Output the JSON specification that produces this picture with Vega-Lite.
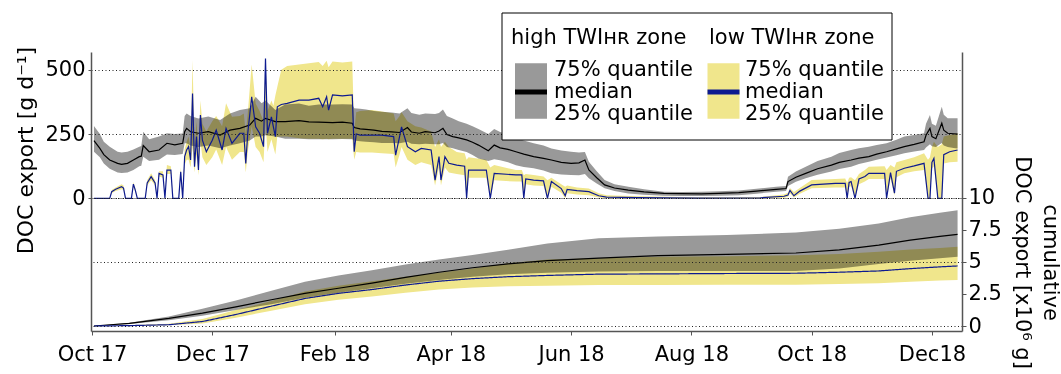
{
  "$schema": "https://vega.github.io/schema/vega-lite/v6.json",
  "width": 871,
  "height": 279,
  "autosize": {"type": "none"},
  "padding": {"left": 91, "top": 52, "right": 99, "bottom": 43},
  "background": "white",
  "config": {
    "view": {"stroke": null},
    "font": "DejaVu Sans"
  },
  "datasets": {
    "high": [
      {"d":"2017-10-02","q25":181,"med":224,"q75":281},
      {"d":"2017-10-05","q25":160,"med":194,"q75":250},
      {"d":"2017-10-07","q25":135,"med":170,"q75":220},
      {"d":"2017-10-10","q25":115,"med":149,"q75":201},
      {"d":"2017-10-14","q25":100,"med":136,"q75":181},
      {"d":"2017-10-16","q25":98,"med":132,"q75":178},
      {"d":"2017-10-19","q25":100,"med":136,"q75":181},
      {"d":"2017-10-22","q25":110,"med":149,"q75":190},
      {"d":"2017-10-25","q25":125,"med":162,"q75":201},
      {"d":"2017-10-26","q25":127,"med":164,"q75":203},
      {"d":"2017-10-27","q25":162,"med":205,"q75":259},
      {"d":"2017-10-30","q25":145,"med":181,"q75":230},
      {"d":"2017-11-04","q25":150,"med":188,"q75":240},
      {"d":"2017-11-08","q25":170,"med":214,"q75":253},
      {"d":"2017-11-12","q25":168,"med":208,"q75":250},
      {"d":"2017-11-16","q25":172,"med":214,"q75":252},
      {"d":"2017-11-17","q25":214,"med":259,"q75":320},
      {"d":"2017-11-18","q25":214,"med":272,"q75":330},
      {"d":"2017-11-20","q25":205,"med":259,"q75":320},
      {"d":"2017-11-24","q25":200,"med":253,"q75":310},
      {"d":"2017-11-29","q25":205,"med":259,"q75":318},
      {"d":"2017-12-05","q25":195,"med":246,"q75":305},
      {"d":"2017-12-10","q25":205,"med":265,"q75":330},
      {"d":"2017-12-15","q25":214,"med":272,"q75":343},
      {"d":"2017-12-20","q25":225,"med":285,"q75":350},
      {"d":"2017-12-23","q25":240,"med":311,"q75":395},
      {"d":"2017-12-26","q25":240,"med":300,"q75":370},
      {"d":"2017-12-28","q25":245,"med":311,"q75":380},
      {"d":"2018-01-02","q25":240,"med":298,"q75":343},
      {"d":"2018-01-07","q25":232,"med":298,"q75":365},
      {"d":"2018-01-14","q25":232,"med":302,"q75":369},
      {"d":"2018-01-19","q25":230,"med":297,"q75":360},
      {"d":"2018-01-24","q25":230,"med":296,"q75":365},
      {"d":"2018-01-31","q25":230,"med":294,"q75":365},
      {"d":"2018-02-05","q25":231,"med":296,"q75":366},
      {"d":"2018-02-10","q25":230,"med":292,"q75":365},
      {"d":"2018-02-11","q25":225,"med":275,"q75":350},
      {"d":"2018-02-14","q25":222,"med":270,"q75":348},
      {"d":"2018-02-17","q25":220,"med":268,"q75":345},
      {"d":"2018-02-21","q25":218,"med":265,"q75":340},
      {"d":"2018-02-25","q25":215,"med":260,"q75":337},
      {"d":"2018-03-02","q25":215,"med":258,"q75":334},
      {"d":"2018-03-06","q25":214,"med":256,"q75":330},
      {"d":"2018-03-10","q25":220,"med":275,"q75":350},
      {"d":"2018-03-12","q25":212,"med":258,"q75":332},
      {"d":"2018-03-16","q25":210,"med":253,"q75":325},
      {"d":"2018-03-19","q25":212,"med":259,"q75":330},
      {"d":"2018-03-24","q25":210,"med":255,"q75":328},
      {"d":"2018-03-26","q25":210,"med":262,"q75":332},
      {"d":"2018-03-28","q25":215,"med":272,"q75":345},
      {"d":"2018-03-30","q25":200,"med":248,"q75":320},
      {"d":"2018-04-02","q25":195,"med":240,"q75":310},
      {"d":"2018-04-05","q25":188,"med":235,"q75":300},
      {"d":"2018-04-09","q25":180,"med":227,"q75":290},
      {"d":"2018-04-12","q25":168,"med":218,"q75":280},
      {"d":"2018-04-15","q25":155,"med":207,"q75":270},
      {"d":"2018-04-20","q25":145,"med":185,"q75":250},
      {"d":"2018-04-23","q25":152,"med":207,"q75":270},
      {"d":"2018-04-26","q25":148,"med":196,"q75":258},
      {"d":"2018-04-30","q25":140,"med":190,"q75":248},
      {"d":"2018-05-04","q25":129,"med":181,"q75":235},
      {"d":"2018-05-08","q25":122,"med":172,"q75":225},
      {"d":"2018-05-13","q25":117,"med":162,"q75":214},
      {"d":"2018-05-18","q25":108,"med":155,"q75":205},
      {"d":"2018-05-22","q25":97,"med":149,"q75":194},
      {"d":"2018-05-27","q25":93,"med":140,"q75":186},
      {"d":"2018-06-01","q25":91,"med":136,"q75":181},
      {"d":"2018-06-05","q25":90,"med":138,"q75":178},
      {"d":"2018-06-08","q25":95,"med":149,"q75":180},
      {"d":"2018-06-10","q25":78,"med":110,"q75":142},
      {"d":"2018-06-14","q25":58,"med":80,"q75":105},
      {"d":"2018-06-18","q25":39,"med":52,"q75":71},
      {"d":"2018-06-23","q25":28,"med":40,"q75":55},
      {"d":"2018-06-30","q25":19,"med":32,"q75":45},
      {"d":"2018-07-08","q25":14,"med":25,"q75":35},
      {"d":"2018-07-18","q25":10,"med":19,"q75":26},
      {"d":"2018-07-27","q25":9,"med":18,"q75":25},
      {"d":"2018-08-06","q25":9,"med":17,"q75":26},
      {"d":"2018-08-15","q25":10,"med":19,"q75":27},
      {"d":"2018-08-25","q25":12,"med":22,"q75":30},
      {"d":"2018-09-03","q25":18,"med":28,"q75":37},
      {"d":"2018-09-13","q25":26,"med":35,"q75":45},
      {"d":"2018-09-18","q25":28,"med":38,"q75":48},
      {"d":"2018-09-19","q25":48,"med":65,"q75":84},
      {"d":"2018-09-23","q25":64,"med":82,"q75":104},
      {"d":"2018-09-28","q25":78,"med":97,"q75":123},
      {"d":"2018-10-04","q25":92,"med":115,"q75":145},
      {"d":"2018-10-11","q25":104,"med":129,"q75":162},
      {"d":"2018-10-15","q25":114,"med":140,"q75":176},
      {"d":"2018-10-21","q25":123,"med":149,"q75":188},
      {"d":"2018-10-25","q25":133,"med":156,"q75":195},
      {"d":"2018-10-30","q25":142,"med":162,"q75":201},
      {"d":"2018-11-03","q25":150,"med":172,"q75":207},
      {"d":"2018-11-08","q25":159,"med":181,"q75":214},
      {"d":"2018-11-13","q25":167,"med":192,"q75":228},
      {"d":"2018-11-17","q25":175,"med":201,"q75":240},
      {"d":"2018-11-22","q25":182,"med":210,"q75":246},
      {"d":"2018-11-27","q25":188,"med":220,"q75":253},
      {"d":"2018-11-28","q25":198,"med":245,"q75":290},
      {"d":"2018-11-30","q25":210,"med":272,"q75":324},
      {"d":"2018-12-01","q25":202,"med":240,"q75":290},
      {"d":"2018-12-03","q25":200,"med":232,"q75":282},
      {"d":"2018-12-06","q25":215,"med":292,"q75":356},
      {"d":"2018-12-07","q25":205,"med":265,"q75":325},
      {"d":"2018-12-09","q25":200,"med":253,"q75":311},
      {"d":"2018-12-12","q25":196,"med":251,"q75":311},
      {"d":"2018-12-14","q25":194,"med":250,"q75":311}
    ],
    "low": [
      {"d":"2017-10-02","q25":0,"med":0,"q75":0},
      {"d":"2017-10-10","q25":0,"med":0,"q75":0},
      {"d":"2017-10-11","q25":20,"med":26,"q75":32},
      {"d":"2017-10-13","q25":28,"med":35,"q75":42},
      {"d":"2017-10-16","q25":35,"med":45,"q75":55},
      {"d":"2017-10-17","q25":32,"med":40,"q75":50},
      {"d":"2017-10-18","q25":0,"med":0,"q75":0},
      {"d":"2017-10-21","q25":0,"med":0,"q75":0},
      {"d":"2017-10-22","q25":45,"med":55,"q75":63},
      {"d":"2017-10-23","q25":25,"med":31,"q75":38},
      {"d":"2017-10-24","q25":0,"med":0,"q75":0},
      {"d":"2017-10-28","q25":0,"med":0,"q75":0},
      {"d":"2017-10-29","q25":50,"med":60,"q75":70},
      {"d":"2017-10-31","q25":70,"med":84,"q75":97},
      {"d":"2017-11-02","q25":50,"med":60,"q75":70},
      {"d":"2017-11-03","q25":0,"med":0,"q75":0},
      {"d":"2017-11-04","q25":85,"med":97,"q75":105},
      {"d":"2017-11-06","q25":80,"med":91,"q75":105},
      {"d":"2017-11-07","q25":0,"med":0,"q75":0},
      {"d":"2017-11-08","q25":95,"med":110,"q75":130},
      {"d":"2017-11-10","q25":95,"med":110,"q75":125},
      {"d":"2017-11-11","q25":0,"med":0,"q75":0},
      {"d":"2017-11-14","q25":0,"med":0,"q75":0},
      {"d":"2017-11-15","q25":85,"med":103,"q75":120},
      {"d":"2017-11-16","q25":0,"med":0,"q75":0},
      {"d":"2017-11-17","q25":130,"med":162,"q75":190},
      {"d":"2017-11-18","q25":150,"med":188,"q75":220},
      {"d":"2017-11-19","q25":150,"med":201,"q75":240},
      {"d":"2017-11-20","q25":120,"med":149,"q75":190},
      {"d":"2017-11-21","q25":200,"med":408,"q75":538},
      {"d":"2017-11-22","q25":100,"med":123,"q75":200},
      {"d":"2017-11-23","q25":170,"med":240,"q75":300},
      {"d":"2017-11-24","q25":90,"med":110,"q75":190},
      {"d":"2017-11-25","q25":220,"med":324,"q75":380},
      {"d":"2017-11-26","q25":160,"med":226,"q75":290},
      {"d":"2017-11-28","q25":130,"med":181,"q75":260},
      {"d":"2017-12-01","q25":160,"med":226,"q75":300},
      {"d":"2017-12-03","q25":190,"med":265,"q75":320},
      {"d":"2017-12-06","q25":130,"med":188,"q75":280},
      {"d":"2017-12-08","q25":200,"med":272,"q75":370},
      {"d":"2017-12-11","q25":150,"med":214,"q75":317},
      {"d":"2017-12-15","q25":180,"med":253,"q75":320},
      {"d":"2017-12-17","q25":180,"med":253,"q75":330},
      {"d":"2017-12-18","q25":100,"med":136,"q75":250},
      {"d":"2017-12-19","q25":180,"med":253,"q75":330},
      {"d":"2017-12-21","q25":280,"med":395,"q75":520},
      {"d":"2017-12-23","q25":200,"med":278,"q75":369},
      {"d":"2017-12-25","q25":180,"med":253,"q75":340},
      {"d":"2017-12-27","q25":140,"med":201,"q75":300},
      {"d":"2017-12-28","q25":300,"med":544,"q75":545},
      {"d":"2017-12-29","q25":180,"med":253,"q75":340},
      {"d":"2017-12-31","q25":230,"med":317,"q75":380},
      {"d":"2018-01-01","q25":200,"med":278,"q75":360},
      {"d":"2018-01-02","q25":170,"med":240,"q75":400},
      {"d":"2018-01-03","q25":240,"med":356,"q75":434},
      {"d":"2018-01-05","q25":240,"med":365,"q75":500},
      {"d":"2018-01-08","q25":240,"med":369,"q75":515},
      {"d":"2018-01-14","q25":234,"med":382,"q75":520},
      {"d":"2018-01-19","q25":232,"med":382,"q75":525},
      {"d":"2018-01-24","q25":232,"med":389,"q75":530},
      {"d":"2018-01-26","q25":230,"med":356,"q75":515},
      {"d":"2018-01-28","q25":232,"med":395,"q75":535},
      {"d":"2018-01-29","q25":230,"med":343,"q75":510},
      {"d":"2018-01-31","q25":232,"med":402,"q75":532},
      {"d":"2018-02-05","q25":232,"med":398,"q75":528},
      {"d":"2018-02-10","q25":232,"med":402,"q75":532},
      {"d":"2018-02-11","q25":150,"med":181,"q75":260},
      {"d":"2018-02-12","q25":180,"med":250,"q75":335},
      {"d":"2018-02-14","q25":178,"med":246,"q75":340},
      {"d":"2018-02-20","q25":178,"med":246,"q75":343},
      {"d":"2018-02-25","q25":175,"med":246,"q75":338},
      {"d":"2018-03-03","q25":172,"med":240,"q75":330},
      {"d":"2018-03-04","q25":120,"med":168,"q75":300},
      {"d":"2018-03-06","q25":170,"med":240,"q75":320},
      {"d":"2018-03-07","q25":200,"med":278,"q75":335},
      {"d":"2018-03-10","q25":150,"med":201,"q75":300},
      {"d":"2018-03-14","q25":130,"med":181,"q75":280},
      {"d":"2018-03-17","q25":140,"med":194,"q75":275},
      {"d":"2018-03-22","q25":130,"med":188,"q75":260},
      {"d":"2018-03-24","q25":50,"med":71,"q75":200},
      {"d":"2018-03-26","q25":120,"med":162,"q75":230},
      {"d":"2018-03-27","q25":50,"med":71,"q75":200},
      {"d":"2018-03-29","q25":120,"med":162,"q75":220},
      {"d":"2018-03-31","q25":100,"med":136,"q75":200},
      {"d":"2018-04-04","q25":95,"med":129,"q75":180},
      {"d":"2018-04-08","q25":90,"med":125,"q75":175},
      {"d":"2018-04-09","q25":0,"med":0,"q75":150},
      {"d":"2018-04-10","q25":80,"med":110,"q75":160},
      {"d":"2018-04-19","q25":80,"med":110,"q75":150},
      {"d":"2018-04-21","q25":0,"med":0,"q75":120},
      {"d":"2018-04-23","q25":70,"med":97,"q75":130},
      {"d":"2018-05-04","q25":65,"med":91,"q75":110},
      {"d":"2018-05-07","q25":65,"med":91,"q75":110},
      {"d":"2018-05-08","q25":0,"med":0,"q75":90},
      {"d":"2018-05-09","q25":55,"med":75,"q75":95},
      {"d":"2018-05-13","q25":50,"med":71,"q75":91},
      {"d":"2018-05-18","q25":48,"med":68,"q75":85},
      {"d":"2018-05-20","q25":0,"med":0,"q75":70},
      {"d":"2018-05-22","q25":45,"med":65,"q75":80},
      {"d":"2018-05-27","q25":22,"med":38,"q75":55},
      {"d":"2018-05-29","q25":0,"med":10,"q75":45},
      {"d":"2018-05-30","q25":20,"med":35,"q75":50},
      {"d":"2018-06-04","q25":15,"med":30,"q75":42},
      {"d":"2018-06-10","q25":12,"med":26,"q75":38},
      {"d":"2018-06-15","q25":3,"med":10,"q75":20},
      {"d":"2018-06-19","q25":0,"med":5,"q75":12},
      {"d":"2018-07-05","q25":0,"med":3,"q75":8},
      {"d":"2018-08-04","q25":0,"med":1,"q75":4},
      {"d":"2018-09-05","q25":0,"med":2,"q75":5},
      {"d":"2018-09-17","q25":2,"med":8,"q75":15},
      {"d":"2018-09-19","q25":6,"med":13,"q75":22},
      {"d":"2018-09-20","q25":20,"med":31,"q75":40},
      {"d":"2018-09-22","q25":3,"med":10,"q75":25},
      {"d":"2018-09-25","q25":18,"med":28,"q75":40},
      {"d":"2018-10-01","q25":39,"med":52,"q75":71},
      {"d":"2018-10-13","q25":42,"med":58,"q75":75},
      {"d":"2018-10-18","q25":42,"med":58,"q75":77},
      {"d":"2018-10-19","q25":0,"med":0,"q75":60},
      {"d":"2018-10-20","q25":45,"med":62,"q75":80},
      {"d":"2018-10-21","q25":47,"med":65,"q75":82},
      {"d":"2018-10-23","q25":0,"med":0,"q75":70},
      {"d":"2018-10-25","q25":55,"med":75,"q75":95},
      {"d":"2018-10-28","q25":65,"med":85,"q75":110},
      {"d":"2018-10-30","q25":75,"med":97,"q75":123},
      {"d":"2018-11-07","q25":75,"med":97,"q75":125},
      {"d":"2018-11-08","q25":0,"med":0,"q75":110},
      {"d":"2018-11-10","q25":78,"med":100,"q75":130},
      {"d":"2018-11-12","q25":10,"med":20,"q75":120},
      {"d":"2018-11-13","q25":82,"med":105,"q75":140},
      {"d":"2018-11-17","q25":97,"med":117,"q75":149},
      {"d":"2018-11-22","q25":105,"med":126,"q75":160},
      {"d":"2018-11-27","q25":110,"med":136,"q75":175},
      {"d":"2018-11-29","q25":0,"med":0,"q75":150},
      {"d":"2018-11-30","q25":0,"med":0,"q75":160},
      {"d":"2018-12-01","q25":115,"med":140,"q75":200},
      {"d":"2018-12-02","q25":125,"med":155,"q75":220},
      {"d":"2018-12-04","q25":0,"med":0,"q75":200},
      {"d":"2018-12-06","q25":0,"med":0,"q75":210},
      {"d":"2018-12-07","q25":135,"med":170,"q75":240},
      {"d":"2018-12-10","q25":140,"med":181,"q75":246},
      {"d":"2018-12-14","q25":142,"med":188,"q75":253}
    ],
    "cum": [
      {"d":"2017-10-02","h25":0,"hmed":0,"h75":0,"l25":0,"lmed":0,"l75":0},
      {"d":"2017-10-20","h25":0.15,"hmed":0.2,"h75":0.25,"l25":0.01,"lmed":0.03,"l75":0.05},
      {"d":"2017-11-09","h25":0.45,"hmed":0.6,"h75":0.75,"l25":0.05,"lmed":0.1,"l75":0.18},
      {"d":"2017-11-26","h25":0.8,"hmed":1.0,"h75":1.35,"l25":0.2,"lmed":0.35,"l75":0.55},
      {"d":"2017-12-13","h25":1.25,"hmed":1.5,"h75":2.0,"l25":0.65,"lmed":0.9,"l75":1.25},
      {"d":"2017-12-31","h25":1.7,"hmed":2.05,"h75":2.75,"l25":1.2,"lmed":1.55,"l75":1.95},
      {"d":"2018-01-17","h25":2.2,"hmed":2.55,"h75":3.45,"l25":1.7,"lmed":2.15,"l75":2.7},
      {"d":"2018-02-03","h25":2.6,"hmed":2.95,"h75":3.95,"l25":2.05,"lmed":2.55,"l75":3.15},
      {"d":"2018-02-20","h25":2.95,"hmed":3.35,"h75":4.35,"l25":2.3,"lmed":2.85,"l75":3.5},
      {"d":"2018-03-09","h25":3.3,"hmed":3.8,"h75":4.8,"l25":2.6,"lmed":3.2,"l75":3.85},
      {"d":"2018-03-26","h25":3.6,"hmed":4.2,"h75":5.2,"l25":2.85,"lmed":3.5,"l75":4.15},
      {"d":"2018-04-12","h25":3.85,"hmed":4.55,"h75":5.55,"l25":3.0,"lmed":3.7,"l75":4.5},
      {"d":"2018-04-30","h25":4.05,"hmed":4.85,"h75":5.95,"l25":3.1,"lmed":3.85,"l75":4.9},
      {"d":"2018-05-20","h25":4.15,"hmed":5.1,"h75":6.45,"l25":3.15,"lmed":3.95,"l75":5.2},
      {"d":"2018-06-15","h25":4.25,"hmed":5.3,"h75":6.85,"l25":3.2,"lmed":4.05,"l75":5.3},
      {"d":"2018-07-15","h25":4.3,"hmed":5.5,"h75":7.0,"l25":3.2,"lmed":4.07,"l75":5.4},
      {"d":"2018-08-19","h25":4.3,"hmed":5.6,"h75":7.1,"l25":3.22,"lmed":4.1,"l75":5.45},
      {"d":"2018-09-23","h25":4.3,"hmed":5.7,"h75":7.3,"l25":3.22,"lmed":4.12,"l75":5.52},
      {"d":"2018-10-15","h25":4.5,"hmed":5.95,"h75":7.6,"l25":3.28,"lmed":4.2,"l75":5.62},
      {"d":"2018-11-04","h25":4.85,"hmed":6.32,"h75":8.0,"l25":3.34,"lmed":4.3,"l75":5.8},
      {"d":"2018-11-20","h25":5.1,"hmed":6.7,"h75":8.5,"l25":3.45,"lmed":4.48,"l75":5.98},
      {"d":"2018-12-05","h25":5.3,"hmed":7.0,"h75":8.85,"l25":3.55,"lmed":4.62,"l75":6.1},
      {"d":"2018-12-14","h25":5.4,"hmed":7.15,"h75":9.04,"l25":3.6,"lmed":4.69,"l75":6.19}
    ]
  },
  "encoding": {
    "x": {
      "field": "d",
      "type": "temporal",
      "scale": {
        "type": "utc",
        "domain": [
          {"year": 2017, "month": 9, "date": 30, "hours": 12, "utc": true},
          {"year": 2018, "month": 12, "date": 16, "hours": 6, "utc": true}
        ]
      },
      "axis": {
        "orient": "bottom",
        "title": null,
        "values": [
          {"year": 2017, "month": 10, "date": 1, "utc": true},
          {"year": 2017, "month": 12, "date": 1, "utc": true},
          {"year": 2018, "month": 2, "date": 1, "utc": true},
          {"year": 2018, "month": 4, "date": 1, "utc": true},
          {"year": 2018, "month": 6, "date": 1, "utc": true},
          {"year": 2018, "month": 8, "date": 1, "utc": true},
          {"year": 2018, "month": 10, "date": 1, "utc": true},
          {"year": 2018, "month": 12, "date": 1, "utc": true}
        ],
        "labelExpr": "utcFormat(datum.value, '%b %y') == 'Dec 18' ? 'Dec18' : utcFormat(datum.value, '%b %y')",
        "labelFont": "DejaVu Sans",
        "labelFontSize": 21,
        "labelColor": "black",
        "labelPadding": 8,
        "labelFlush": false,
        "labelOverlap": false,
        "labelBound": false,
        "grid": false,
        "domainColor": "#555555",
        "domainWidth": 1.5,
        "tickColor": "#555555",
        "tickSize": 4,
        "tickWidth": 1,
        "zindex": 1
      }
    }
  },
  "layer": [
    {
      "encoding": {
        "y": {
          "type": "quantitative",
          "scale": {"domain": [-516, 569], "nice": false, "zero": false},
          "axis": {
            "orient": "left",
            "values": [0, 250, 500],
            "format": "d",
            "grid": true,
            "gridColor": "#222222",
            "gridDash": [1, 2.5],
            "gridWidth": 1,
            "domainColor": "#555555",
            "domainWidth": 1.5,
            "tickColor": "#555555",
            "tickSize": 3,
            "labelFont": "DejaVu Sans",
            "labelFontSize": 21,
            "labelColor": "black",
            "labelPadding": 3,
            "title": "DOC export [g d⁻¹]",
            "titleFont": "DejaVu Sans",
            "titleFontSize": 22,
            "titleFontWeight": "normal",
            "titleColor": "black",
            "titleAngle": -90,
            "titleX": -66,
            "titleY": 98,
            "titleAlign": "center",
            "titleBaseline": "middle",
            "zindex": 1
          }
        }
      },
      "layer": [
        {
          "data": {"name": "low"},
          "mark": {"type": "area"},
          "encoding": {
            "y": {"field": "q75"},
            "y2": {"field": "q25"},
            "color": {
              "datum": "L75",
              "type": "nominal",
              "scale": {"domain": ["L75", "Lmed", "L25"], "range": ["#F0E68C", "#F0E68C", "#F0E68C"]},
              "legend": {
                "orient": "none",
                "legendX": 618,
                "legendY": -25.5,
                "zindex": 5,
                "direction": "vertical",
                "title": "low TWIʜʀ zone",
                "titleFont": "DejaVu Sans",
                "titleFontSize": 21,
                "titleFontWeight": "normal",
                "titleColor": "black",
                "titleLimit": 400,
                "titlePadding": 12,
                "padding": 0,
                "labelFont": "DejaVu Sans",
                "labelFontSize": 21,
                "labelColor": "black",
                "labelLimit": 400,
                "labelOffset": 11,
                "symbolOffset": 4,
                "symbolSize": 256,
                "symbolStrokeWidth": 5,
                "symbolOpacity": 1,
                "rowPadding": 0,
                "labelExpr": "datum.value=='L75' ? '75% quantile' : datum.value=='L25' ? '25% quantile' : 'median'",
                "encoding": {
                  "symbols": {
                    "shape": {"value": "M-2,0H2"},
                    "stroke": {"value": {"expr": "datum.value=='Lmed' ? '#0d1a90' : null"}},
                    "opacity": {"value": 1}
                  }
                }
              }
            }
          }
        },
        {
          "data": {"name": "high"},
          "mark": {"type": "area", "blend": "multiply"},
          "encoding": {
            "y": {"field": "q75"},
            "y2": {"field": "q25"},
            "fill": {
              "datum": "H75",
              "type": "nominal",
              "scale": {"domain": ["H75", "Hmed", "H25"], "range": ["#999999", "#999999", "#999999"]},
              "legend": {
                "orient": "none",
                "legendX": 420,
                "legendY": -25.5,
                "zindex": 5,
                "direction": "vertical",
                "title": "high TWIʜʀ zone",
                "titleFont": "DejaVu Sans",
                "titleFontSize": 21,
                "titleFontWeight": "normal",
                "titleColor": "black",
                "titleLimit": 400,
                "titlePadding": 12,
                "padding": 0,
                "labelFont": "DejaVu Sans",
                "labelFontSize": 21,
                "labelColor": "black",
                "labelLimit": 400,
                "labelOffset": 12.5,
                "symbolOffset": 9.5,
                "symbolSize": 256,
                "symbolStrokeWidth": 5,
                "symbolOpacity": 1,
                "rowPadding": 0,
                "labelExpr": "datum.value=='H75' ? '75% quantile' : datum.value=='H25' ? '25% quantile' : 'median'",
                "encoding": {
                  "symbols": {
                    "shape": {"value": "M-2,0H2"},
                    "stroke": {"value": {"expr": "datum.value=='Hmed' ? 'black' : null"}},
                    "opacity": {"value": 1}
                  }
                }
              }
            }
          }
        },
        {
          "data": {"name": "high"},
          "mark": {"type": "line", "color": "black", "strokeWidth": 1.2},
          "encoding": {"y": {"field": "med"}}
        },
        {
          "data": {"name": "low"},
          "mark": {"type": "line", "color": "#0d1a90", "strokeWidth": 1.2},
          "encoding": {"y": {"field": "med"}}
        }
      ]
    },
    {
      "encoding": {
        "y": {
          "type": "quantitative",
          "scale": {"domain": [-0.39, 21.4], "nice": false, "zero": false},
          "axis": {
            "orient": "right",
            "values": [0, 2.5, 5, 7.5, 10],
            "labelExpr": "toString(datum.value)",
            "grid": true,
            "gridColor": "#222222",
            "gridDash": [1, 2.5],
            "gridWidth": 1,
            "gridOpacity": {"condition": {"test": "datum.value % 5 === 0", "value": 1}, "value": 0},
            "domainColor": "#555555",
            "domainWidth": 1.5,
            "tickColor": "#555555",
            "tickSize": 4,
            "labelFont": "DejaVu Sans",
            "labelFontSize": 21,
            "labelColor": "black",
            "labelPadding": 2,
            "title": ["cumulative", "DOC export [x10⁶ g]"],
            "titleFont": "DejaVu Sans",
            "titleFontSize": 21,
            "titleFontWeight": "normal",
            "titleColor": "black",
            "titleAngle": 90,
            "titleX": 87,
            "titleY": 210,
            "titleAlign": "center",
            "titleBaseline": "middle",
            "titleLineHeight": 28,
            "zindex": 1
          }
        }
      },
      "layer": [
        {
          "data": {"name": "cum"},
          "mark": {"type": "area", "color": "#F0E68C"},
          "encoding": {"y": {"field": "l75"}, "y2": {"field": "l25"}}
        },
        {
          "data": {"name": "cum"},
          "mark": {"type": "area", "color": "#999999", "blend": "multiply"},
          "encoding": {
            "y": {"field": "h75"},
            "y2": {"field": "h25"},
            "opacity": {
              "datum": "gcol",
              "type": "nominal",
              "scale": {"domain": ["gcol"], "range": [1]},
              "legend": {
                "orient": "none",
                "legendX": 432,
                "legendY": 31,
                "zindex": 3,
                "title": null,
                "padding": 0,
                "labelExpr": "''",
                "labelFontSize": 8,
                "symbolSize": 256,
                "symbolStrokeWidth": 0,
                "symbolOpacity": 1,
                "encoding": {
                  "symbols": {
                    "shape": {"value": "M-2,-3.4625H2V3.4625H-2Z"},
                    "fill": {"value": "#999999"},
                    "stroke": {"value": null},
                    "opacity": {"value": 1}
                  }
                }
              }
            }
          }
        },
        {
          "data": {"name": "cum"},
          "mark": {"type": "line", "strokeWidth": 1.2},
          "encoding": {
            "y": {"field": "hmed"},
            "stroke": {
              "datum": "box",
              "type": "nominal",
              "scale": {"domain": ["box"], "range": ["black"]},
              "legend": {
                "orient": "none",
                "legendX": 597.5,
                "legendY": 16,
                "zindex": 2,
                "title": null,
                "padding": 0,
                "labelExpr": "''",
                "labelFontSize": 8,
                "symbolSize": 256,
                "symbolStrokeWidth": 1,
                "symbolFillColor": "white",
                "symbolStrokeColor": "black",
                "symbolOpacity": 1,
                "encoding": {
                  "symbols": {
                    "shape": {"value": "M-24.375,-7.9375H24.375V7.9375H-24.375Z"},
                    "fill": {"value": "white"},
                    "stroke": {"value": "black"},
                    "opacity": {"value": 1}
                  }
                }
              }
            }
          }
        },
        {
          "data": {"name": "cum"},
          "mark": {"type": "line", "color": "#0d1a90", "strokeWidth": 1.2},
          "encoding": {
            "y": {"field": "lmed"},
            "strokeDash": {
              "datum": "ycol",
              "type": "nominal",
              "scale": {"domain": ["ycol"], "range": [[1, 0]]},
              "legend": {
                "orient": "none",
                "legendX": 624.5,
                "legendY": 31,
                "zindex": 3,
                "title": null,
                "padding": 0,
                "labelExpr": "''",
                "labelFontSize": 8,
                "symbolSize": 256,
                "symbolStrokeWidth": 0,
                "symbolOpacity": 1,
                "encoding": {
                  "symbols": {
                    "shape": {"value": "M-2,-3.4625H2V3.4625H-2Z"},
                    "fill": {"value": "#F0E68C"},
                    "stroke": {"value": null},
                    "opacity": {"value": 1}
                  }
                }
              }
            }
          }
        }
      ]
    }
  ],
  "resolve": {"scale": {"y": "independent"}}
}
